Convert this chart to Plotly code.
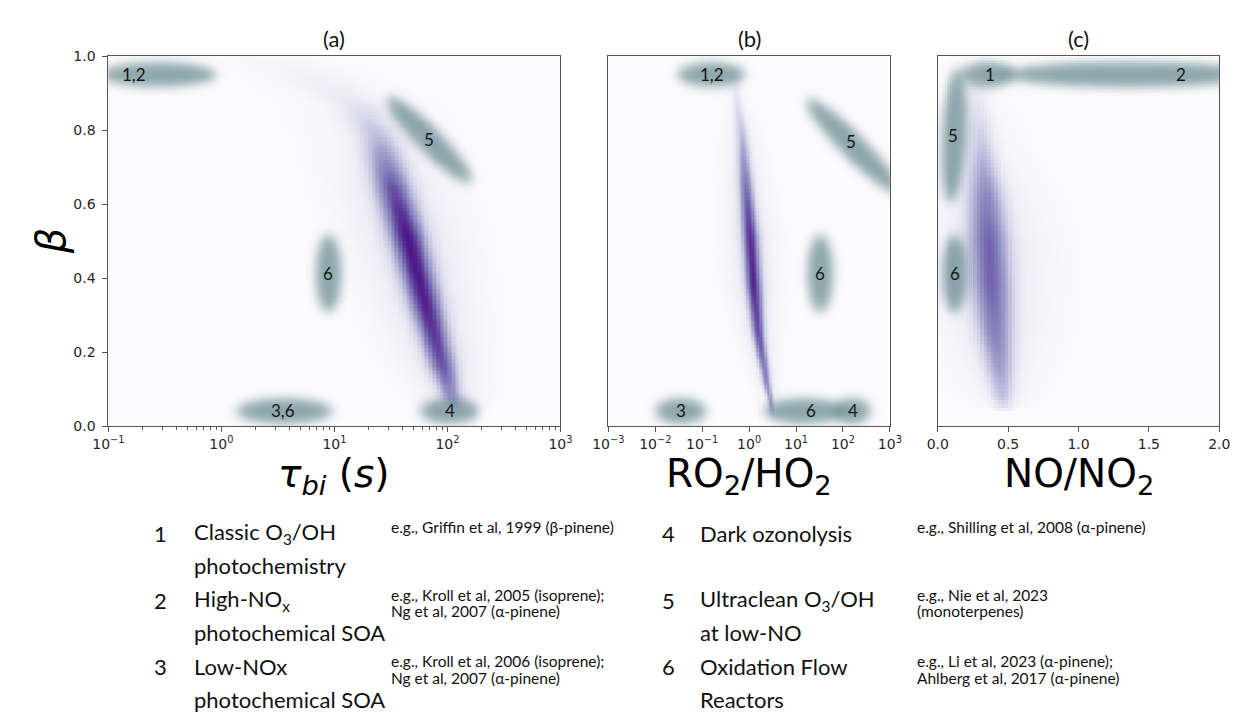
import numpy as np
import plotly.graph_objects as go

FIG_W, FIG_H = 1243, 717

# ======================= DATA =======================
# Purple simulated-density ridges: beta level, ridge position, spread, relative density
a_beta = [0.995, 0.95, 0.90, 0.866, 0.778, 0.646, 0.514, 0.337, 0.161, 0.073, 0.03]
a_tau = [2.5, 6.0, 11.0, 17.0, 24.6, 32.8, 44.0, 63.0, 90.6, 110.0, 120.0]
a_spread = [0.30, 0.24, 0.19, 0.16, 0.13, 0.115, 0.11, 0.10, 0.085, 0.07, 0.05]   # decades
a_density = [0.04, 0.08, 0.13, 0.20, 0.38, 0.75, 0.93, 0.90, 0.75, 0.50, 0.0]

b_beta = [0.97, 0.91, 0.85, 0.778, 0.65, 0.514, 0.38, 0.249, 0.117, 0.047, 0.02]
b_ratio = [0.45, 0.52, 0.60, 0.71, 0.85, 1.06, 1.26, 1.58, 2.37, 3.09, 3.3]
b_spread = [0.06, 0.07, 0.08, 0.095, 0.11, 0.12, 0.115, 0.09, 0.065, 0.04, 0.02]  # decades
b_density = [0.05, 0.14, 0.25, 0.40, 0.65, 0.85, 0.88, 0.75, 0.58, 0.42, 0.0]

c_beta = [0.93, 0.85, 0.75, 0.62, 0.50, 0.38, 0.25, 0.15, 0.08, 0.05, 0.035]
c_ratio = [0.27, 0.29, 0.31, 0.34, 0.36, 0.38, 0.41, 0.44, 0.46, 0.47, 0.47]
c_spread = [0.05, 0.06, 0.07, 0.09, 0.10, 0.10, 0.09, 0.075, 0.06, 0.045, 0.04]
c_density = [0.10, 0.20, 0.35, 0.58, 0.70, 0.70, 0.60, 0.48, 0.35, 0.22, 0.0]

# Teal regime regions: major-axis start / end points (x value, beta) and label positions
a_region_labels = ["1,2", "5", "6", "3,6", "4"]
a_region_start = [(0.08, 0.95), (28.8, 0.892), (8.85, 0.525), (1.28, 0.041), (54.0, 0.041)]
a_region_end = [(0.95, 0.95), (166.0, 0.655), (8.85, 0.30), (10.1, 0.041), (202.0, 0.041)]
a_label_pos = [(0.17, 0.95), (69.0, 0.775), (8.85, 0.412), (3.5, 0.041), (105.0, 0.041)]

b_region_labels = ["1,2", "5", "6", "3", "6", "4"]
b_region_start = [(0.027, 0.95), (16.2, 0.887), (33.0, 0.525), (0.0087, 0.041), (1.86, 0.041), (54.0, 0.041)]
b_region_end = [(0.93, 0.95), (1620.0, 0.628), (33.0, 0.30), (0.138, 0.041), (120.0, 0.041), (447.0, 0.041)]
b_label_pos = [(0.16, 0.95), (150.0, 0.77), (33.0, 0.412), (0.035, 0.041), (21.0, 0.041), (160.0, 0.041)]

c_region_labels = ["1", "2", "5", "6"]
c_region_start = [(0.15, 0.95), (0.45, 0.95), (0.145, 0.972), (0.12, 0.525)]
c_region_end = [(0.564, 0.95), (2.28, 0.95), (0.09, 0.60), (0.12, 0.30)]
c_label_pos = [(0.37, 0.95), (1.73, 0.95), (0.105, 0.786), (0.123, 0.412)]

panel_titles = ["(a)", "(b)", "(c)"]
y_tick_vals = [0.0, 0.2, 0.4, 0.6, 0.8, 1.0]
y_tick_text = ["0.0", "0.2", "0.4", "0.6", "0.8", "1.0"]
a_tick_vals = [0.1, 1, 10, 100, 1000]
a_tick_text = ["10<sup>\u22121</sup>", "10<sup>0</sup>", "10<sup>1</sup>", "10<sup>2</sup>", "10<sup>3</sup>"]
b_tick_vals = [0.001, 0.01, 0.1, 1, 10, 100, 1000]
b_tick_text = ["10<sup>\u22123</sup>", "10<sup>\u22122</sup>", "10<sup>\u22121</sup>", "10<sup>0</sup>",
               "10<sup>1</sup>", "10<sup>2</sup>", "10<sup>3</sup>"]
c_tick_vals = [0.0, 0.5, 1.0, 1.5, 2.0]
c_tick_text = ["0.0", "0.5", "1.0", "1.5", "2.0"]

regime_numbers = ["1", "2", "3", "4", "5", "6"]
regime_names = [["Classic O<sub>3</sub>/OH", "photochemistry"],
                ["High-NO<sub>x</sub>", "photochemical SOA"],
                ["Low-NOx", "photochemical SOA"],
                ["Dark ozonolysis", ""],
                ["Ultraclean O<sub>3</sub>/OH", "at low-NO"],
                ["Oxidation Flow", "Reactors"]]
regime_refs = [["e.g., Griffin et al, 1999 (\u03b2-pinene)", ""],
               ["e.g., Kroll et al, 2005 (isoprene);", "Ng et al, 2007 (\u03b1-pinene)"],
               ["e.g., Kroll et al, 2006 (isoprene);", "Ng et al, 2007 (\u03b1-pinene)"],
               ["e.g., Shilling et al, 2008 (\u03b1-pinene)", ""],
               ["e.g., Nie et al, 2023", "(monoterpenes)"],
               ["e.g., Li et al, 2023 (\u03b1-pinene);", "Ahlberg et al, 2017 (\u03b1-pinene)"]]

# ======================= LAYOUT / STYLE =======================
PLOT_TOP, PLOT_BOTTOM = 49.3, 427.7
PANEL_PX = [(94.5, 557.0), (606.0, 894.0), (943.0, 1231.0)]
PANEL_URANGE = [(-1.0, 3.0), (-3.0, 3.0), (0.0, 2.0)]
PANEL_LOG = [True, True, False]
TEAL = (60, 105, 112)
PURPLES = [[0.0, "#fcfbfd"], [0.125, "#efedf5"], [0.25, "#dadaeb"], [0.375, "#bcbddc"],
           [0.5, "#9e9ac8"], [0.625, "#807dba"], [0.75, "#6a51a3"], [0.875, "#54278f"], [1.0, "#3f007d"]]
TICK_FONT = dict(family="DejaVu Sans", size=14, color="#262626")
LEG_FONT = "Lato"


def gblur(a, s):
    r = int(3 * s) + 1
    k = np.exp(-0.5 * (np.arange(-r, r + 1) / s) ** 2)
    k /= k.sum()
    a = np.apply_along_axis(lambda m: np.convolve(m, k, mode="same"), 0, a)
    a = np.apply_along_axis(lambda m: np.convolve(m, k, mode="same"), 1, a)
    return a


def region_alpha(starts, ends, xlog, urange, wpx, hpx, step=2.0, pad=50.0, half_w=12.5,
                 blur_px=5.0, amax=0.58):
    def to_px(x, b):
        u = np.log10(x) if xlog else x
        return (u - urange[0]) / (urange[1] - urange[0]) * wpx, b * hpx

    gx = np.arange(-pad, wpx + pad + 1e-9, step)
    gy = np.arange(-pad, hpx + pad + 1e-9, step)
    PX, PY = np.meshgrid(gx, gy)
    keep = np.ones_like(PX)
    for s, e in zip(starts, ends):
        x1, y1 = to_px(*s)
        x2, y2 = to_px(*e)
        cx, cy = (x1 + x2) / 2, (y1 + y2) / 2
        L = max(np.hypot(x2 - x1, y2 - y1) / 2 - 3, half_w)
        ang = np.arctan2(y2 - y1, x2 - x1)
        du, dv = PX - cx, PY - cy
        u = du * np.cos(ang) + dv * np.sin(ang)
        v = -du * np.sin(ang) + dv * np.cos(ang)
        r = np.sqrt((u / L) ** 2 + (v / half_w) ** 2)
        m = np.clip((1 - r) * half_w / step + 0.5, 0, 1)
        m = gblur(m, blur_px / step)
        keep *= 1 - amax * m
    alpha = 1 - keep
    ix = (gx >= 0) & (gx <= wpx)
    iy = (gy >= 0) & (gy <= hpx)
    alpha = alpha[np.ix_(iy, ix)]
    uu = urange[0] + gx[ix] / wpx * (urange[1] - urange[0])
    xs = 10 ** uu if xlog else uu
    bs = gy[iy] / hpx
    return xs, bs, alpha


def density_field(beta, pos, spread, dens, xlog, urange, nx, ny):
    order = np.argsort(beta)
    bb = np.array(beta, float)[order]
    pp = np.array(pos, float)[order]
    if xlog:
        pp = np.log10(pp)
    ss = np.array(spread, float)[order]
    dd = np.array(dens, float)[order]
    du = (urange[1] - urange[0]) / nx
    u = urange[0] + (np.arange(nx) + 0.5) * du
    b = (np.arange(ny) + 0.5) / ny
    cu = np.interp(b, bb, pp)
    sg = np.interp(b, bb, ss)
    it = np.interp(b, bb, dd, left=0, right=0)
    d = (u[None, :] - cu[:, None]) / sg[:, None]
    z = it[:, None] * (0.8 * np.exp(-0.5 * d ** 2) + 0.2 * np.exp(-0.5 * (d / 3) ** 2))
    xs = 10 ** u if xlog else u
    return xs, b, z


fig = go.Figure()

ridges = [(a_beta, a_tau, a_spread, a_density, 120, 100),
          (b_beta, b_ratio, b_spread, b_density, 110, 100),
          (c_beta, c_ratio, c_spread, c_density, 80, 100)]
regions = [(a_region_start, a_region_end, a_region_labels, a_label_pos),
           (b_region_start, b_region_end, b_region_labels, b_label_pos),
           (c_region_start, c_region_end, c_region_labels, c_label_pos)]

teal_scale = [[0, "rgba(%d,%d,%d,0)" % TEAL], [1, "rgba(%d,%d,%d,1)" % TEAL]]
annotations = []
hpx = PLOT_BOTTOM - PLOT_TOP
for i in range(3):
    xa = "x" if i == 0 else "x%d" % (i + 1)
    ya = "y" if i == 0 else "y%d" % (i + 1)
    xlog = PANEL_LOG[i]
    ur = PANEL_URANGE[i]
    wpx = PANEL_PX[i][1] - PANEL_PX[i][0]
    rb, rp, rs, rd, nx, ny = ridges[i]
    xs, bs, z = density_field(rb, rp, rs, rd, xlog, ur, nx, ny)
    fig.add_trace(go.Heatmap(x=np.round(xs, 6).tolist(), y=np.round(bs, 5).tolist(),
                             z=np.round(z, 3).tolist(), colorscale=PURPLES, zmin=0, zmax=1,
                             showscale=False, hoverinfo="skip", xaxis=xa, yaxis=ya))
    st, en, labs, lpos = regions[i]
    xs2, bs2, al = region_alpha(st, en, xlog, ur, wpx, hpx)
    fig.add_trace(go.Heatmap(x=np.round(xs2, 6).tolist(), y=np.round(bs2, 5).tolist(),
                             z=np.round(al, 3).tolist(), colorscale=teal_scale, zmin=0, zmax=1,
                             showscale=False, hoverinfo="skip", xaxis=xa, yaxis=ya))
    for lab, (lx, lb) in zip(labs, lpos):
        annotations.append(dict(x=float(np.log10(lx)) if xlog else lx, y=lb, xref=xa, yref=ya,
                                text=lab, showarrow=False, xanchor="center", yanchor="middle",
                                font=dict(family=LEG_FONT, size=17, color="#151515")))
    cx = (PANEL_PX[i][0] + PANEL_PX[i][1]) / 2 / FIG_W
    annotations.append(dict(x=cx, y=1 - 31 / FIG_H, xref="paper", yref="paper", text=panel_titles[i],
                            showarrow=False, xanchor="center", yanchor="middle",
                            font=dict(family=LEG_FONT, size=22, color="#111")))

# axis titles
x_titles = ["<i>\u03c4</i><sub><i>bi</i></sub> (<i>s</i>)", "RO<sub>2</sub>/HO<sub>2</sub>", "NO/NO<sub>2</sub>"]
for i in range(3):
    cx = (PANEL_PX[i][0] + PANEL_PX[i][1]) / 2 / FIG_W
    annotations.append(dict(x=cx, y=1 - 479 / FIG_H, xref="paper", yref="paper", text=x_titles[i],
                            showarrow=False, xanchor="center", yanchor="middle",
                            font=dict(family="DejaVu Sans", size=39, color="#000")))
annotations.append(dict(x=36 / FIG_W, y=1 - 238.5 / FIG_H, xref="paper", yref="paper",
                        text="<i>\u03b2</i>", textangle=-90, showarrow=False,
                        xanchor="center", yanchor="middle",
                        font=dict(family="DejaVu Sans", size=40, color="#000")))

# regime legend
NUM_X = [148, 668]
NAME_X = [180, 698]
REF_X = [382, 920]
ROW_Y = [537, 606, 674]
LINE_GAP = 33
REF_Y = [531, 600, 668]
REF_GAP = 17
for k in range(6):
    col, row = k // 3, k % 3
    annotations.append(dict(x=NUM_X[col] / FIG_W, y=1 - ROW_Y[row] / FIG_H, xref="paper", yref="paper",
                            text=regime_numbers[k], showarrow=False, xanchor="center", yanchor="middle",
                            font=dict(family=LEG_FONT, size=22, color="#111")))
    for j, line in enumerate(regime_names[k]):
        if line:
            annotations.append(dict(x=NAME_X[col] / FIG_W, y=1 - (ROW_Y[row] + j * LINE_GAP) / FIG_H,
                                    xref="paper", yref="paper", text=line, showarrow=False,
                                    xanchor="left", yanchor="middle",
                                    font=dict(family=LEG_FONT, size=22, color="#111")))
    for j, line in enumerate(regime_refs[k]):
        if line:
            annotations.append(dict(x=REF_X[col] / FIG_W, y=1 - (REF_Y[row] + j * REF_GAP) / FIG_H,
                                    xref="paper", yref="paper", text=line, showarrow=False,
                                    xanchor="left", yanchor="middle",
                                    font=dict(family=LEG_FONT, size=15.5, color="#111")))

ydom = [1 - PLOT_BOTTOM / FIG_H, 1 - PLOT_TOP / FIG_H]
base = dict(showline=True, linecolor="#555", linewidth=1, mirror=True, showgrid=False, zeroline=False,
            tickfont=TICK_FONT, ticks="outside", ticklen=5, tickcolor="#555", fixedrange=True)
minor_a = [m * 10.0 ** e for e in range(-1, 3) for m in range(2, 10)]

fig.update_layout(
    width=FIG_W, height=FIG_H, autosize=False,
    margin=dict(l=0, r=0, t=0, b=0), paper_bgcolor="white", plot_bgcolor="#fcfbfd",
    showlegend=False, annotations=annotations,
    xaxis=dict(base, type="log", range=list(PANEL_URANGE[0]), domain=[PANEL_PX[0][0] / FIG_W, PANEL_PX[0][1] / FIG_W],
               anchor="y", tickmode="array", tickvals=a_tick_vals, ticktext=a_tick_text,
               minor=dict(tickmode="array", tickvals=minor_a, ticks="outside", ticklen=2.5, tickcolor="#555")),
    yaxis=dict(base, range=[0, 1], domain=ydom, anchor="x", tickmode="array",
               tickvals=y_tick_vals, ticktext=y_tick_text, ticklabelstandoff=4),
    xaxis2=dict(base, type="log", range=list(PANEL_URANGE[1]), domain=[PANEL_PX[1][0] / FIG_W, PANEL_PX[1][1] / FIG_W],
                anchor="y2", tickmode="array", tickvals=b_tick_vals, ticktext=b_tick_text),
    yaxis2=dict(base, range=[0, 1], domain=ydom, anchor="x2", showticklabels=False, ticks=""),
    xaxis3=dict(base, range=list(PANEL_URANGE[2]), domain=[PANEL_PX[2][0] / FIG_W, PANEL_PX[2][1] / FIG_W],
                anchor="y3", tickmode="array", tickvals=c_tick_vals, ticktext=c_tick_text),
    yaxis3=dict(base, range=[0, 1], domain=ydom, anchor="x3", showticklabels=False, ticks=""),
)

fig.write_html("out.html", config={"displayModeBar": False, "staticPlot": True},
               post_script="document.body.style.margin='0px';document.body.style.overflow='hidden';")
